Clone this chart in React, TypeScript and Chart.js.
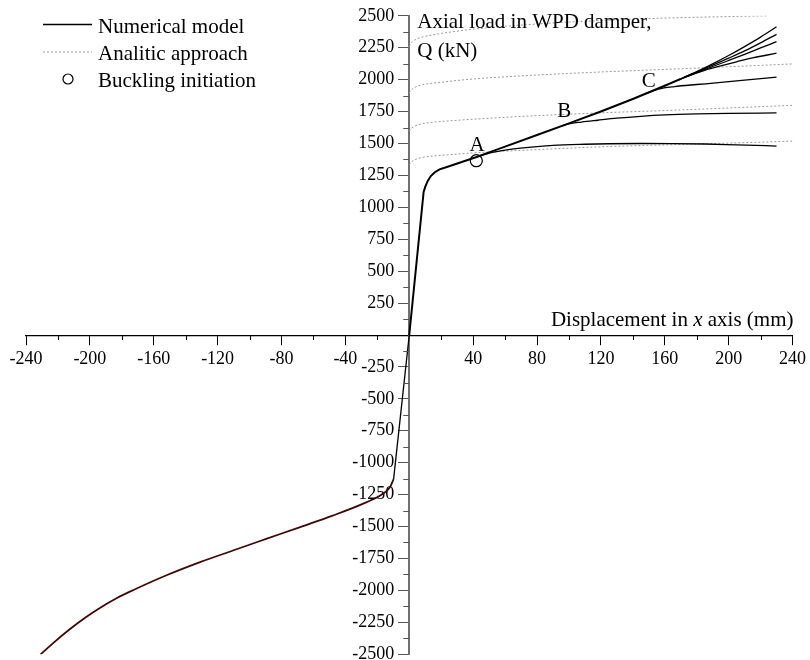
import React, { useEffect, useRef } from 'react';
import { Chart, registerables } from 'chart.js';

Chart.register(...registerables);

// ---------- Data ----------
// Numerical model: trunk (origin -> elastic branch -> plastic hardening line)
const trunk = [
  [0, 0], [9, 1120], [10, 1160], [11.5, 1205], [13.5, 1245], [16, 1275], [19, 1297],
  [25, 1322], [31, 1347], [38, 1377], [44, 1402], [50, 1430], [60, 1475], [80, 1566],
  [100, 1657], [120, 1750], [140, 1848], [160, 1952], [170, 2006],
];
// Upper continuation of the trunk (highest post-C curve)
const branchTop = [[170, 2006], [180, 2063], [190, 2124], [200, 2189], [210, 2259], [220, 2333], [230, 2414]];
const branchFan2 = [[172, 2018], [180, 2060], [190, 2113], [200, 2168], [210, 2225], [220, 2288], [230, 2355]];
const branchFan3 = [[170, 2006], [180, 2055], [190, 2103], [200, 2150], [210, 2198], [220, 2248], [230, 2298]];
const branchFan4 = [[165, 1979], [175, 2030], [185, 2073], [195, 2108], [205, 2140], [215, 2170], [230, 2207]];
const branchC = [[148, 1890], [156, 1926], [166, 1946], [180, 1962], [192, 1974], [210, 1996], [230, 2020]];
const branchB = [[95, 1634], [100, 1654], [108, 1668], [118, 1682], [130, 1698], [145, 1713], [160, 1724], [180, 1732], [200, 1736], [230, 1739]];
const branchA = [[44, 1402], [52, 1430], [62, 1452], [73, 1468], [90, 1485], [110, 1494], [125, 1498], [145, 1500], [165, 1499], [185, 1496], [205, 1489], [230, 1480]];
// Compression side
const compressionElastic = [[0, 0], [-9.8, -1129]];
const compressionCurve = [
  [-9.8, -1129], [-12, -1190], [-16.7, -1246], [-27, -1311], [-48, -1415], [-68.75, -1506],
  [-89.6, -1597], [-110.4, -1688], [-131, -1779], [-152, -1882], [-173, -1999],
  [-183, -2060], [-193, -2132], [-203, -2215], [-213, -2309], [-223, -2413], [-230, -2492], [-231, -2504],
];
// Analytic approach
const analytic1 = [[0, 1332], [1, 1351], [2.5, 1366], [5, 1380], [8, 1390], [13, 1399], [20, 1407], [40, 1426], [80, 1452], [120, 1474], [160, 1489], [200, 1503], [240, 1518]];
const analytic2 = [[0, 1596], [1, 1614], [2.5, 1629], [5, 1644], [8, 1654], [13, 1664], [20, 1672], [40, 1690], [80, 1718], [120, 1740], [160, 1758], [200, 1778], [240, 1799]];
const analytic3 = [[0, 1895], [1, 1915], [2.5, 1932], [5, 1948], [8, 1959], [13, 1970], [20, 1980], [40, 2005], [80, 2036], [120, 2060], [160, 2080], [200, 2101], [240, 2123]];
const analytic4 = [[0, 2259], [1, 2282], [2.5, 2302], [5, 2320], [8, 2333], [13, 2347], [20, 2362], [40, 2395], [80, 2436], [120, 2463], [160, 2482], [200, 2494], [224, 2500]];
// Buckling initiation
const buckling = [[42, 1365]];
// Point labels
const pointLabels = ['A', 'B', 'C'];
const pointLabelX = [42.5, 97, 150];
const pointLabelY = [1483, 1748, 1982];
// Ticks
const xMinorTicks = [-220, -180, -140, -100, -60, -20, 20, 60, 100, 140, 180, 220];
const yMinorTicks = [-2375, -2125, -1875, -1625, -1375, -1125, -875, -625, -375, -125, 125, 375, 625, 875, 1125, 1375, 1625, 1875, 2125, 2375];
const legendLabels = ['Numerical model', 'Analitic approach', 'Buckling initiation'];

const FONT = "'Liberation Serif', 'Times New Roman', serif";
const toXY = (arr: number[][]) => arr.map(([x, y]) => ({ x, y }));

const numStyle = (data: number[][], width = 1.3, color = '#000', smooth = true) => ({
  data: toXY(data), showLine: true, borderColor: color, borderWidth: width,
  pointRadius: 0, tension: smooth ? 0.4 : 0, cubicInterpolationMode: smooth ? 'monotone' : 'default',
  order: 2, fill: false,
});
const anaStyle = (data: number[][]) => ({
  data: toXY(data), showLine: true, borderColor: '#9a9a9a', borderWidth: 1,
  borderDash: [2, 2], pointRadius: 0, tension: 0.4, cubicInterpolationMode: 'monotone', order: 3, fill: false,
});

const minorTicksPlugin = {
  id: 'minorTicks',
  afterDraw(chart: any) {
    const { ctx, scales } = chart;
    const x = scales.x, y = scales.y;
    const x0 = x.getPixelForValue(0);
    const y0 = y.getPixelForValue(0);
    ctx.save();
    ctx.lineWidth = 1;
    ctx.strokeStyle = '#000';
    for (const v of xMinorTicks) {
      const px = Math.round(x.getPixelForValue(v)) + 0.5;
      ctx.beginPath(); ctx.moveTo(px, y0); ctx.lineTo(px, y0 + 5); ctx.stroke();
    }
    ctx.strokeStyle = '#555';
    for (const v of yMinorTicks) {
      const py = Math.round(y.getPixelForValue(v)) + 0.5;
      ctx.beginPath(); ctx.moveTo(x0, py); ctx.lineTo(x0 - 6, py); ctx.stroke();
    }
    ctx.restore();
  },
};

const textPlugin = {
  id: 'texts',
  afterDraw(chart: any) {
    const { ctx, scales } = chart;
    const x = scales.x, y = scales.y;
    const x0 = x.getPixelForValue(0);
    const y0 = y.getPixelForValue(0);
    ctx.save();
    ctx.fillStyle = '#000';
    // point labels
    ctx.font = `21px ${FONT}`;
    ctx.textAlign = 'center';
    ctx.textBaseline = 'middle';
    pointLabels.forEach((t, i) => {
      ctx.fillText(t, x.getPixelForValue(pointLabelX[i]), y.getPixelForValue(pointLabelY[i]));
    });
    // y axis title
    ctx.textAlign = 'left';
    ctx.textBaseline = 'alphabetic';
    ctx.fillText('Axial load in WPD damper,', x0 + 8, 28);
    ctx.fillText('Q (kN)', x0 + 8, 57);
    // x axis title, right aligned to the chart area end
    const p1 = 'Displacement in ';
    const p2 = 'x';
    const p3 = ' axis (mm)';
    ctx.font = `21px ${FONT}`;
    const w1 = ctx.measureText(p1).width;
    const w3 = ctx.measureText(p3).width;
    ctx.font = `italic 21px ${FONT}`;
    const w2 = ctx.measureText(p2).width;
    const right = chart.chartArea.right + 1;
    const base = y0 - 9;
    let sx = right - (w1 + w2 + w3);
    ctx.font = `21px ${FONT}`;
    ctx.fillText(p1, sx, base);
    sx += w1;
    ctx.font = `italic 21px ${FONT}`;
    ctx.fillText(p2, sx, base);
    sx += w2;
    ctx.font = `21px ${FONT}`;
    ctx.fillText(p3, sx, base);

    // legend
    const lx0 = 43, lx1 = 92, tx = 98;
    const rows = [24, 51.5, 79];
    const bases = [33, 60, 87];
    ctx.lineWidth = 1.3;
    ctx.strokeStyle = '#000';
    ctx.beginPath(); ctx.moveTo(lx0, rows[0] + 0.5); ctx.lineTo(lx1, rows[0] + 0.5); ctx.stroke();
    ctx.lineWidth = 1;
    ctx.strokeStyle = '#9a9a9a';
    ctx.setLineDash([2, 2]);
    ctx.beginPath(); ctx.moveTo(lx0, rows[1] + 0.5); ctx.lineTo(lx1, rows[1] + 0.5); ctx.stroke();
    ctx.setLineDash([]);
    ctx.strokeStyle = '#000';
    ctx.lineWidth = 1.2;
    ctx.beginPath(); ctx.arc(68, rows[2], 5, 0, Math.PI * 2); ctx.stroke();
    ctx.font = `21px ${FONT}`;
    legendLabels.forEach((t, i) => ctx.fillText(t, tx, bases[i]));
    ctx.restore();
  },
};

export default function App() {
  const ref = useRef<HTMLCanvasElement>(null);
  useEffect(() => {
    document.body.style.margin = '0';
    document.body.style.overflow = 'hidden';
    const canvas = ref.current;
    if (!canvas) return;
    const chart = new Chart(canvas, {
      type: 'scatter',
      data: {
        datasets: [
          anaStyle(analytic1),
          anaStyle(analytic2),
          anaStyle(analytic3),
          anaStyle(analytic4),
          numStyle(trunk, 2, '#000', false),
          numStyle(branchTop),
          numStyle(branchFan2),
          numStyle(branchFan3),
          numStyle(branchFan4),
          numStyle(branchC),
          numStyle(branchB),
          numStyle(branchA),
          numStyle(compressionElastic, 1.3, '#000', false),
          numStyle(compressionCurve, 1.8, '#3c0808'),
          {
            data: toXY(buckling), showLine: false, pointRadius: 6, pointStyle: 'circle',
            pointBorderColor: '#000', pointBackgroundColor: 'rgba(0,0,0,0)', pointBorderWidth: 1.2, order: 1,
          },
        ] as any,
      },
      options: {
        animation: false,
        responsive: false,
        maintainAspectRatio: false,
        layout: { padding: { left: 26, right: 16, top: 15, bottom: 14 } },
        plugins: { legend: { display: false }, tooltip: { enabled: false } },
        scales: {
          x: {
            type: 'linear', min: -240, max: 240, position: 'center',
            grid: { drawOnChartArea: false, drawTicks: true, tickLength: 9, color: '#000', tickColor: '#000', tickWidth: 1 },
            border: { display: true, color: '#000', width: 1.2 },
            ticks: {
              stepSize: 40, autoSkip: false, maxRotation: 0, padding: 4, color: '#000',
              font: { family: FONT, size: 18 },
              callback: (v: any) => (Number(v) === 0 ? '' : String(v)),
            },
          },
          y: {
            type: 'linear', min: -2500, max: 2500, position: 'center',
            grid: { drawOnChartArea: false, drawTicks: true, tickLength: 10, color: '#555', tickColor: '#555', tickWidth: 1 },
            border: { display: true, color: '#707070', width: 2 },
            ticks: {
              stepSize: 250, autoSkip: false, padding: 5, color: '#000',
              font: { family: FONT, size: 18 },
              callback: (v: any) => (Number(v) === 0 ? '' : String(v)),
            },
          },
        },
      } as any,
      plugins: [minorTicksPlugin, textPlugin],
    });
    return () => chart.destroy();
  }, []);
  return (
    <div style={{ width: 810, height: 660, overflow: 'hidden', position: 'relative', background: '#fff' }}>
      <canvas ref={ref} width={810} height={670} style={{ display: 'block', width: 810, height: 670 }} />
    </div>
  );
}
